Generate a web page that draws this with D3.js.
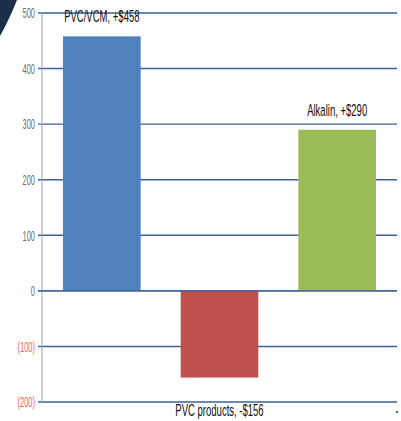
<!DOCTYPE html>
<html>
<head>
<meta charset="utf-8">
<script src="https://cdn.jsdelivr.net/npm/d3@7"></script>
<style>
  body { margin: 0; background: #fff; }
  svg { display: block; }
</style>
</head>
<body>
<svg id="chart" width="401" height="421"></svg>
<script>
const categories = ["PVC/VCM", "PVC products", "Alkalin"];
const values = [458, -156, 290];
const labels = ["PVC/VCM, +$458", "PVC products, -$156", "Alkalin, +$290"];
const colors = ["#4f81bd", "#c0504d", "#9bbb59"];
const tickValues = [500, 400, 300, 200, 100, 0, -100, -200];

const svg = d3.select("#chart");
// no narrow font installed, so squeeze Liberation Sans horizontally
const font = "'Liberation Sans', Arial, sans-serif";

const x = d3.scaleBand()
  .domain(categories)
  .range([43, 396])
  .paddingInner(0.34)
  .paddingOuter(0.17);

const y = d3.scaleLinear()
  .domain([-200, 500])
  .range([402, 13]);

// dark corner decoration
svg.append("path")
  .attr("d", "M0,0 L17,0 Q9,20 0,36 Z")
  .attr("fill", "#1b2f4a");

// gridlines
svg.append("g")
  .selectAll("line")
  .data(tickValues)
  .join("line")
  .attr("x1", 38)
  .attr("x2", 397)
  .attr("y1", d => y(d))
  .attr("y2", d => y(d))
  .attr("stroke", "#3b619a")
  .attr("stroke-width", 1.4);

// vertical axis
svg.append("line")
  .attr("x1", 42).attr("x2", 42)
  .attr("y1", y(500)).attr("y2", y(-200))
  .attr("stroke", "#a0a0a0")
  .attr("stroke-width", 1);

// tick labels
svg.append("g")
  .selectAll("text")
  .data(tickValues)
  .join("text")
  .attr("transform", d => `translate(35,${y(d)}) scale(0.5,1)`)
  .attr("dy", "0.35em")
  .attr("text-anchor", "end")
  .attr("font-family", font)
  .attr("font-size", 15)
  .attr("fill", d => (d < 0 ? "#ff5a5a" : "#707070"))
  .text(d => (d < 0 ? `(${-d})` : d));

// bars
svg.append("g")
  .selectAll("rect")
  .data(values)
  .join("rect")
  .attr("x", (d, i) => x(categories[i]))
  .attr("width", x.bandwidth())
  .attr("y", d => y(Math.max(0, d)))
  .attr("height", d => Math.abs(y(d) - y(0)))
  .attr("fill", (d, i) => colors[i]);

// zero line on top of bars
svg.append("line")
  .attr("x1", 38).attr("x2", 397)
  .attr("y1", y(0)).attr("y2", y(0))
  .attr("stroke", "#3b619a")
  .attr("stroke-width", 1.4);

// bar labels
svg.append("g")
  .selectAll("text")
  .data(values)
  .join("text")
  .attr("transform", (d, i) => {
    const cx = x(categories[i]) + x.bandwidth() / 2;
    const cy = d >= 0 ? y(d) - 20 : y(-200) + 8;
    return `translate(${cx},${cy}) scale(0.56,1)`;
  })
  .attr("dy", "0.35em")
  .attr("text-anchor", "middle")
  .attr("font-family", font)
  .attr("font-size", 17)
  .attr("fill", "#111")
  .text((d, i) => labels[i]);

// tiny marker bottom-right
svg.append("rect")
  .attr("x", 396).attr("y", 411)
  .attr("width", 2).attr("height", 2)
  .attr("fill", "#3b619a");
</script>
</body>
</html>
